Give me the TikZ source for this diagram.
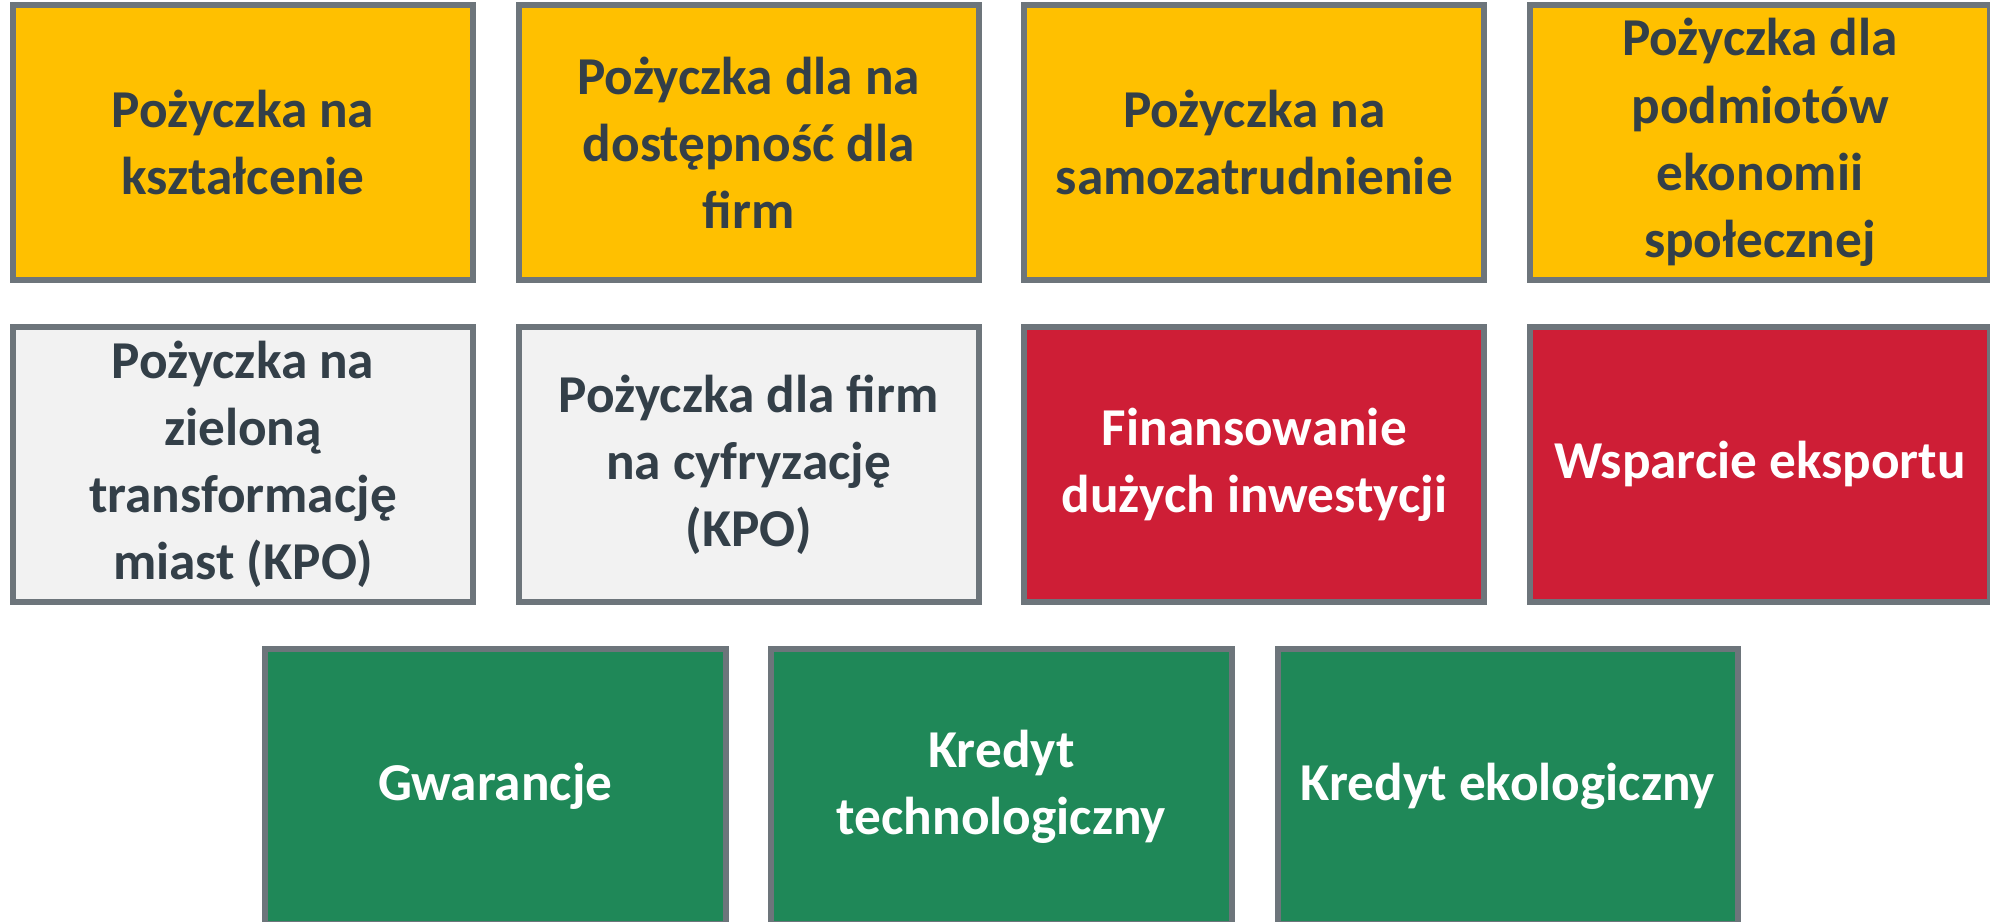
\documentclass[tikz,border=0pt]{standalone}
\usepackage{fontspec}
\setmainfont{Carlito}
\definecolor{loanyellow}{HTML}{FFC000}
\definecolor{kpogray}{HTML}{F2F2F2}
\definecolor{bgkred}{HTML}{CE1E36}
\definecolor{bgkgreen}{HTML}{1F8858}
\definecolor{edgegray}{HTML}{6D757B}
\definecolor{textdark}{HTML}{333F48}
\tikzset{
  tile/.style={draw=edgegray, line width=0.06cm, rectangle,
    minimum width=4.6cm, minimum height=2.75cm, inner sep=0pt,
    align=center, font=\fontsize{15.15}{19.1}\selectfont\bfseries},
  yellowtile/.style={tile, fill=loanyellow, text=textdark},
  graytile/.style={tile, fill=kpogray, text=textdark},
  redtile/.style={tile, fill=bgkred, text=white},
  greentile/.style={tile, fill=bgkgreen, text=white}
}
\begin{document}
\begin{tikzpicture}[x=0.01cm, y=-0.01cm]
  \useasboundingbox (0,0) rectangle (1990,922);

  % Row 1: loans
  \node[yellowtile] (ksztalcenie) at (243,142.5) {Pożyczka na\\kształcenie};
  \node[yellowtile] (dostepnosc) at (748.7,142.5) {Pożyczka dla na\\dostępność dla\\firm};
  \node[yellowtile] (samozatrudnienie) at (1254.3,142.5) {Pożyczka na\\samozatrudnienie};
  \node[yellowtile] (ekonomia) at (1760,142.5) {Pożyczka dla\\podmiotów\\ekonomii\\społecznej};

  % Row 2: KPO loans and large financing
  \node[graytile] (zielona) at (243,464.5) {Pożyczka na\\zieloną\\transformację\\miast (KPO)};
  \node[graytile] (cyfryzacja) at (748.7,464.5) {Pożyczka dla firm\\na cyfryzację\\(KPO)};
  \node[redtile] (inwestycje) at (1254.3,464.5) {Finansowanie\\dużych inwestycji};
  \node[redtile] (eksport) at (1760,464.5) {Wsparcie eksportu};

  % Row 3: guarantees and credits
  \node[greentile] (gwarancje) at (495.5,786.5) {Gwarancje};
  \node[greentile] (technologiczny) at (1001.5,786.5) {Kredyt\\technologiczny};
  \node[greentile] (ekologiczny) at (1508,786.5) {Kredyt ekologiczny};
\end{tikzpicture}
\end{document}
